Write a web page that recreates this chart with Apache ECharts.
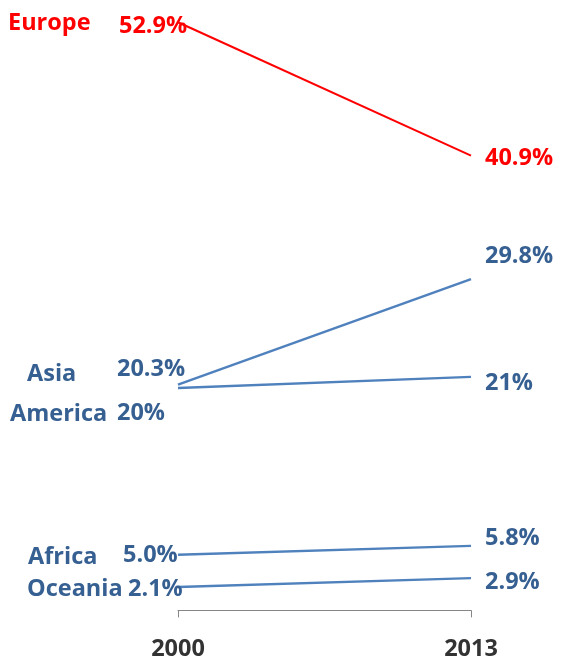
<!DOCTYPE html>
<html>
<head>
<meta charset="utf-8">
<script src="https://cdn.jsdelivr.net/npm/echarts@6/dist/echarts.min.js"></script>
<style>
html,body{margin:0;padding:0;background:#fff;}
#chart{width:568px;height:664px;}
</style>
</head>
<body>
<div id="chart"></div>
<script>
// ---- data ----
const years = ['2000', '2013'];
const regions = ['Europe', 'Asia', 'America', 'Africa', 'Oceania'];
const share2000 = [52.9, 20.3, 20, 5.0, 2.1];
const share2013 = [40.9, 29.8, 21, 5.8, 2.9];
const labels2000 = ['52.9%', '20.3%', '20%', '5.0%', '2.1%'];
const labels2013 = ['40.9%', '29.8%', '21%', '5.8%', '2.9%'];

// ---- layout (label offsets, px) ----
const nameOffset = [[-170, 0.8], [-151, -10.2], [-168, 26.5], [-150, 2.4], [-151, 2]];
const leftValOffset = [[-59, 3.7], [-61, -15.2], [-61, 25.2], [-55, 0.7], [-50, 2.5]];
const rightValOffset = [[14, 2.5], [14, -22.5], [14, 6.5], [14, -7.5], [14, 4.5]];

const RED = '#FF0000';
const LINE_BLUE = '#4F81BD';
const TEXT_BLUE = '#376092';
const FONT = 'Open Sans';
const FSIZE = 23.5;

const series = regions.map((name, i) => {
  const isEurope = name === 'Europe';
  const lineColor = isEurope ? RED : LINE_BLUE;
  const textColor = isEurope ? RED : TEXT_BLUE;
  const baseLabel = {
    show: true, position: 'inside', align: 'left', verticalAlign: 'middle',
    fontFamily: FONT, fontWeight: 'bold', fontSize: FSIZE, color: textColor
  };
  return {
    name: name,
    type: 'line',
    symbol: 'circle',
    symbolSize: 0,
    lineStyle: { color: lineColor, width: isEurope ? 2 : 2.4 },
    itemStyle: { color: lineColor },
    silent: true,
    animation: false,
    data: [
      { value: share2000[i], label: Object.assign({}, baseLabel, { offset: leftValOffset[i], formatter: labels2000[i] }) },
      { value: share2013[i], label: Object.assign({}, baseLabel, { offset: rightValOffset[i], formatter: labels2013[i] }) }
    ],
    markPoint: {
      symbol: 'circle', symbolSize: 0, silent: true, animation: false,
      data: [{ coord: [0, share2000[i]], value: share2000[i] }],
      label: Object.assign({}, baseLabel, { offset: nameOffset[i], formatter: name })
    }
  };
});

const chart = echarts.init(document.getElementById('chart'), null, { renderer: 'canvas' });
chart.setOption({
  animation: false,
  backgroundColor: '#ffffff',
  grid: { left: 178, right: 97, top: 0, bottom: 52.5, containLabel: false },
  xAxis: {
    type: 'category',
    data: years,
    boundaryGap: false,
    axisLine: { show: true, lineStyle: { color: '#868686', width: 1 } },
    axisTick: { show: true, length: 7, lineStyle: { color: '#868686', width: 1 } },
    axisLabel: { margin: 26, fontFamily: FONT, fontWeight: 'bold', fontSize: FSIZE, color: '#333333' },
    splitLine: { show: false }
  },
  yAxis: {
    type: 'value',
    min: -0.1,
    max: 54.9,
    show: false,
    splitLine: { show: false }
  },
  series: series
});
</script>
</body>
</html>
